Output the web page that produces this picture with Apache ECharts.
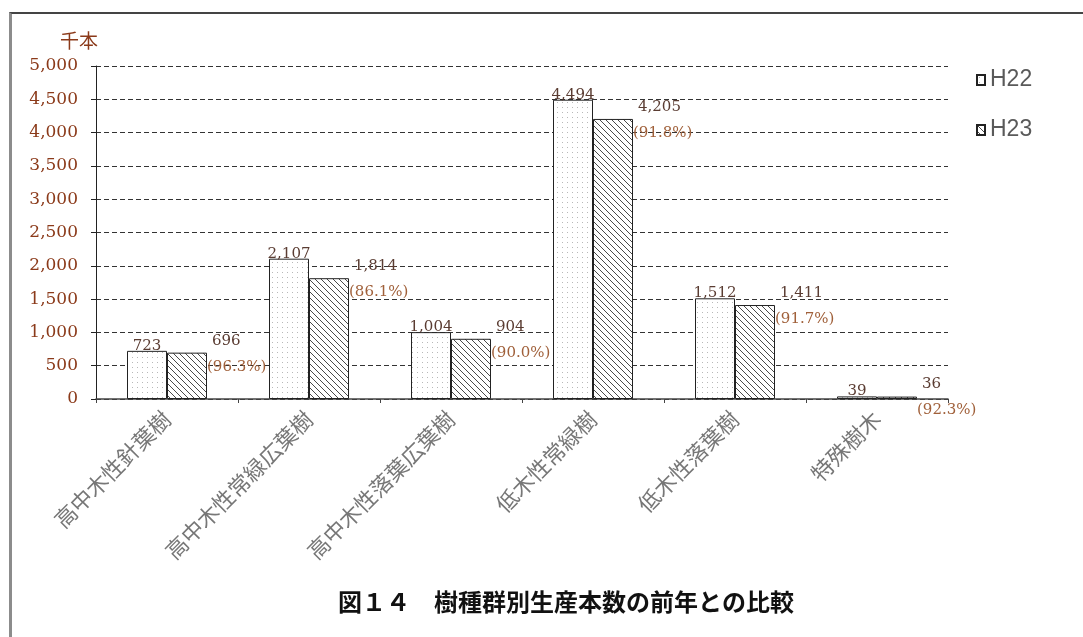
<!DOCTYPE html>
<html>
<head>
<meta charset="utf-8">
<script src="https://cdn.jsdelivr.net/npm/echarts@6/dist/echarts.min.js"></script>
<style>
  html, body { margin: 0; padding: 0; background: #fff; }
  #frame { position: absolute; left: 9px; top: 12px; width: 1100px; height: 700px;
           border-left: 3px solid #8c8c8c; border-top: 2px solid #444; }
  #chart { position: absolute; left: 0; top: 0; width: 1083px; height: 637px; }
</style>
</head>
<body>
<div id="frame"></div>
<div id="chart"></div>
<script>
// ---- data ----
const categories = ['高中木性針葉樹', '高中木性常緑広葉樹', '高中木性落葉広葉樹', '低木性常緑樹', '低木性落葉樹', '特殊樹木'];
const seriesNames = ['H22', 'H23'];
const h22Values = [723, 2107, 1004, 4494, 1512, 39];
const h23Values = [696, 1814, 904, 4205, 1411, 36];
const h23Ratio = ['96.3', '86.1', '90.0', '91.8', '91.7', '92.3'];
const yTickLabels = ['0', '500', '1,000', '1,500', '2,000', '2,500', '3,000', '3,500', '4,000', '4,500', '5,000'];
const unitLabel = '千本';
const titleText = '図１４　樹種群別生産本数の前年との比較';

// ---- fill patterns ----
function dotPattern() {
  const c = document.createElement('canvas');
  c.width = 5; c.height = 5;
  const g = c.getContext('2d');
  g.fillStyle = '#ffffff'; g.fillRect(0, 0, 5, 5);
  g.fillStyle = '#b8b8b8'; g.fillRect(2, 2, 1, 1);
  return c;
}
function hatchPattern() {
  const s = 6;
  const c = document.createElement('canvas');
  c.width = s; c.height = s;
  const g = c.getContext('2d');
  g.fillStyle = '#ffffff'; g.fillRect(0, 0, s, s);
  g.strokeStyle = '#4a4a4a'; g.lineWidth = 1;
  g.beginPath();
  g.moveTo(-1, -1); g.lineTo(s + 1, s + 1);
  g.moveTo(-1, s - 1); g.lineTo(1, s + 1);
  g.moveTo(s - 1, -1); g.lineTo(s + 1, 1);
  g.stroke();
  return c;
}
const fmt = v => Number(v).toLocaleString('en-US');

const chart = echarts.init(document.getElementById('chart'), null, { renderer: 'canvas' });
const serif = 'DejaVu Serif';
const cjk = '"Noto Sans CJK JP"';

chart.setOption({
  animation: false,
  grid: { left: 96, right: 135, top: 66, bottom: 238, containLabel: false },
  legend: {
    data: seriesNames,
    orient: 'vertical',
    left: 971, top: 62,
    itemWidth: 8, itemHeight: 10, itemGap: 24,
    icon: 'rect',
    textStyle: { fontFamily: 'Liberation Sans', fontSize: 23, color: '#5a5a5a', lineHeight: 26 }
  },
  xAxis: {
    type: 'category',
    data: categories,
    axisLine: { lineStyle: { color: '#444', width: 1.5 } },
    axisTick: { show: true, length: 4, lineStyle: { color: '#444' } },
    axisLabel: {
      interval: 0, rotate: 45, margin: 16,
      fontFamily: cjk, fontSize: 22, color: '#777777'
    },
    splitLine: { show: false }
  },
  yAxis: {
    type: 'value',
    min: 0, max: 5000, interval: 500,
    axisLine: { show: true, lineStyle: { color: '#222', width: 1 } },
    axisTick: { show: true, length: 5, lineStyle: { color: '#222' } },
    axisLabel: {
      margin: 18,
      fontFamily: serif, fontSize: 17, color: '#8b3a1a',
      formatter: (v) => yTickLabels[Math.round(v / 500)]
    },
    splitLine: { show: true, lineStyle: { color: '#333', width: 1, type: [5, 3] } }
  },
  graphic: [
    { type: 'text', left: 60, top: 31,
      style: { text: unitLabel, font: '19px "Noto Sans CJK JP"', fill: '#8b3a1a' } },
    { type: 'text', left: 338, top: 590,
      style: { text: titleText, font: 'bold 24px "Noto Sans CJK JP"', fill: '#111' } }
  ],
  series: [
    {
      name: seriesNames[0],
      type: 'bar',
      data: h22Values,
      barWidth: 40,
      barGap: '0%',
      itemStyle: { color: { image: dotPattern(), repeat: 'repeat' }, borderColor: '#222', borderWidth: 1 },
      label: {
        show: true,
        position: ['50%', '0%'],
        align: 'center', verticalAlign: 'middle',
        offset: [0, -5],
        fontFamily: serif, fontSize: 15, color: '#5a3c32',
        formatter: p => fmt(p.value)
      }
    },
    {
      name: seriesNames[1],
      type: 'bar',
      data: h23Values,
      barWidth: 40,
      itemStyle: { color: { image: hatchPattern(), repeat: 'repeat' }, borderColor: '#222', borderWidth: 1 },
      label: {
        show: true,
        position: ['100%', '0%'],
        align: 'left', verticalAlign: 'middle',
        offset: [0, 1],
        formatter: p => '{v|' + fmt(p.value) + '}\n{p|(' + h23Ratio[p.dataIndex] + '%)}',
        rich: {
          v: { fontFamily: serif, fontSize: 15, color: '#5a3c32', lineHeight: 26, padding: [0, 0, 0, 5] },
          p: { fontFamily: serif, fontSize: 15, color: '#a0603a', lineHeight: 26 }
        }
      }
    }
  ]
});
</script>
</body>
</html>
